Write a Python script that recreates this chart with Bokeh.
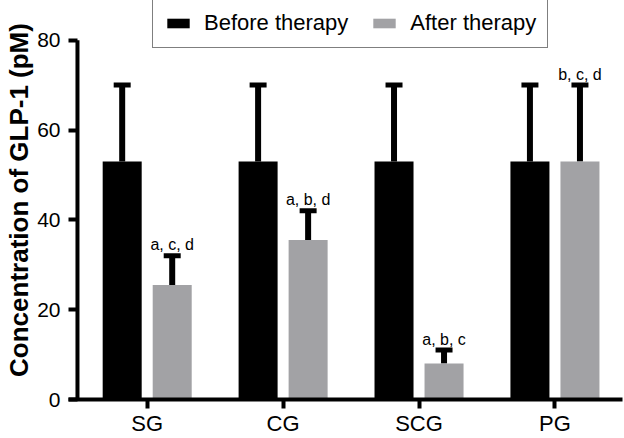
from bokeh.plotting import figure
from bokeh.models import ColumnDataSource, FixedTicker, Range1d
from bokeh.core.properties import value
from bokeh.embed import file_html
from bokeh.resources import INLINE

# ---- data ----
categories = ["SG", "CG", "SCG", "PG"]
before_mean = [53, 53, 53, 53]
before_upper = [70, 70, 70, 70]
after_mean = [25.5, 35.5, 8, 53]
after_upper = [32, 42, 11, 70]
annotations = ["a, c, d", "a, b, d", "a, b, c", "b, c, d"]
y_ticks = [0, 20, 40, 60, 80]
y_label = "Concentration of GLP-1 (pM)"
series_names = ["Before therapy", "After therapy"]

FONT = "Liberation Sans"
GREY = "#a2a2a5"
OFF = 0.184
BW = 0.287
CAP = 0.0625
X0 = -0.513  # where the y axis line sits

xs = list(range(len(categories)))
xb = [x - OFF for x in xs]
xa = [x + OFF for x in xs]

src_b = ColumnDataSource(dict(x=xb, top=before_mean, up=before_upper,
                              l=[x - CAP for x in xb], r=[x + CAP for x in xb]))
src_a = ColumnDataSource(dict(x=xa, top=after_mean, up=after_upper,
                              l=[x - CAP for x in xa], r=[x + CAP for x in xa],
                              txt=annotations))

# frame reaches the top of the canvas so the legend is not clipped;
# the y axis line is drawn only from 0 to 80
p = figure(width=624, height=438, output_backend="svg", toolbar_location=None,
           x_range=Range1d(-0.579, 3.497), y_range=Range1d(0, 88.84),
           min_border_left=68, min_border_right=2, min_border_top=0,
           min_border_bottom=36)
p.outline_line_color = None
p.xgrid.visible = False
p.ygrid.visible = False
p.background_fill_color = "white"
p.border_fill_color = "white"

# y axis line (data range 0..80)
p.segment(x0=[X0], y0=[y_ticks[0]], x1=[X0], y1=[y_ticks[-1]],
          line_color="black", line_width=4)

# error bars (upper only)
for src in (src_b, src_a):
    p.segment(x0="x", y0="top", x1="x", y1="up", source=src,
              line_color="black", line_width=6)
    p.segment(x0="l", y0="up", x1="r", y1="up", source=src,
              line_color="black", line_width=5)

p.vbar(x="x", top="top", bottom=0, width=BW, source=src_b,
       fill_color="black", line_color=None, legend_label=series_names[0])
p.vbar(x="x", top="top", bottom=0, width=BW, source=src_a,
       fill_color=GREY, line_color=None, legend_label=series_names[1])

p.text(x="x", y="up", text="txt", source=src_a, text_align="center",
       text_baseline="alphabetic", y_offset=-11,
       text_font=value(FONT), text_font_size="16px", text_color="black")

# axes
for ax in (p.xaxis[0], p.yaxis[0]):
    ax.axis_line_width = 4
    ax.axis_line_color = "black"
    ax.major_tick_line_width = 4
    ax.major_tick_line_color = "black"
    ax.minor_tick_line_color = None
    ax.major_label_text_font = FONT
    ax.major_label_text_color = "black"

p.yaxis.axis_line_color = None
p.yaxis.ticker = FixedTicker(ticks=y_ticks)
p.yaxis.major_tick_in = 9
p.yaxis.major_tick_out = 0
p.yaxis.major_label_standoff = 8
p.yaxis.major_label_text_font_size = "21px"
p.yaxis.axis_label = y_label
p.yaxis.axis_label_text_font = FONT
p.yaxis.axis_label_text_font_style = "bold"
p.yaxis.axis_label_text_font_size = "26px"
p.yaxis.axis_label_text_color = "black"
p.yaxis.axis_label_standoff = 0

p.xaxis.ticker = FixedTicker(ticks=xs)
p.xaxis.major_label_overrides = {i: c for i, c in enumerate(categories)}
p.xaxis.major_tick_in = 0
p.xaxis.major_tick_out = 9
p.xaxis.major_label_standoff = 2
p.xaxis.major_label_text_font_size = "22px"

# legend
lg = p.legend[0]
lg.orientation = "horizontal"
lg.location = (84, 351)
lg.glyph_width = 28
lg.glyph_height = 12
lg.label_standoff = 12
lg.spacing = 22
lg.padding = 11
lg.margin = 0
lg.label_text_font = FONT
lg.label_text_font_size = "22px"
lg.label_text_color = "black"
lg.border_line_color = "black"
lg.border_line_width = 1.5
lg.background_fill_alpha = 1
lg.background_fill_color = "white"

open("out.html", "w").write(file_html(p, INLINE))
